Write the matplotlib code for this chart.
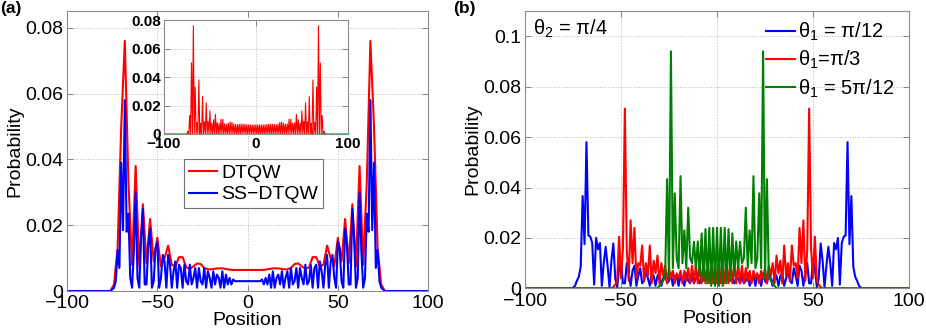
#!/usr/bin/env python3
"""Quantum walk probability distributions: DTQW vs SS-DTQW and theta_1 sweep"""
import matplotlib
matplotlib.use('Agg')
import matplotlib.pyplot as plt
import numpy as np

# ---- data (symmetric about position 0) ----
# panel (a): DTQW, even positions -76, -74, ..., 0
dtqw_half = [0.0, 0.002, 0.013, 0.050, 0.076, 0.033, 0.008, 0.038, 0.0075, 0.0264,
             0.0085, 0.0219, 0.009, 0.0162, 0.0075, 0.010, 0.0138, 0.008, 0.0075, 0.0103,
             0.0103, 0.0072, 0.0068, 0.0075, 0.0084, 0.0082, 0.0070, 0.0066, 0.0066, 0.0068,
             0.0069, 0.0069, 0.0067, 0.0065, 0.0064, 0.0064, 0.0064, 0.0064, 0.0064]
# panel (a): SS-DTQW, positions -76 ... 0
ssdtqw_half = [0.0, 0.0005, 0.001, 0.003, 0.0125, 0.007, 0.039, 0.0185, 0.058, 0.018,
               0.0235, 0.004, 0.001, 0.012, 0.030, 0.004, 0.001, 0.016, 0.025, 0.002,
               0.002, 0.014, 0.019, 0.001, 0.003, 0.013, 0.015, 0.001, 0.004, 0.011,
               0.009, 0.001, 0.011, 0.008, 0.001, 0.006, 0.009, 0.001, 0.008, 0.007,
               0.001, 0.008, 0.003, 0.002, 0.008, 0.002, 0.004, 0.007, 0.001, 0.007,
               0.003, 0.002, 0.007, 0.001, 0.006, 0.004, 0.001, 0.006, 0.002, 0.005,
               0.004, 0.001, 0.006, 0.001, 0.005, 0.002, 0.004, 0.002, 0.0035, 0.003,
               0.003, 0.003, 0.003, 0.003, 0.003, 0.003, 0.003]
# panel (b): theta_1 = pi/12, positions -76 ... 0
th_pi12_half = [0.0, 0.0003, 0.001, 0.003, 0.0046, 0.0086, 0.0366, 0.0175, 0.058, 0.021,
                0.0205, 0.018, 0.0015, 0.020, 0.0155, 0.018, 0.001, 0.010, 0.0165, 0.009,
                0.0005, 0.011, 0.0178, 0.004, 0.0005, 0.008, 0.011, 0.002, 0.002, 0.010,
                0.006, 0.001, 0.007, 0.009, 0.001, 0.005, 0.008, 0.002, 0.003, 0.007,
                0.004, 0.001, 0.006, 0.005, 0.001, 0.005, 0.006, 0.001, 0.004, 0.006,
                0.002, 0.003, 0.006, 0.001, 0.005, 0.005, 0.001, 0.005, 0.004, 0.001,
                0.006, 0.003, 0.002, 0.005, 0.002, 0.004, 0.004, 0.002, 0.005, 0.003,
                0.004, 0.005, 0.003, 0.005, 0.004, 0.004, 0.004]
# panel (b): theta_1 = pi/3, positions -55 ... 0
th_pi3_half = [0.0, 0.0005, 0.0015, 0.003, 0.0205, 0.004, 0.016, 0.0713, 0.015, 0.003,
               0.027, 0.010, 0.024, 0.004, 0.010, 0.009, 0.017, 0.003, 0.010, 0.005,
               0.017, 0.002, 0.011, 0.006, 0.013, 0.002, 0.010, 0.005, 0.009, 0.002,
               0.008, 0.004, 0.007, 0.002, 0.006, 0.004, 0.007, 0.002, 0.007, 0.003,
               0.008, 0.002, 0.009, 0.002, 0.0095, 0.002, 0.010, 0.002, 0.010, 0.002,
               0.010, 0.002, 0.010, 0.002, 0.010, 0.002]
# panel (b): theta_1 = 5pi/12, positions -32 ... 0
th_5pi12_half = [0.0, 0.0, 0.001, 0.002, 0.003, 0.005, 0.0433, 0.004, 0.094, 0.008,
                 0.0377, 0.012, 0.008, 0.0445, 0.010, 0.023, 0.008, 0.032, 0.012, 0.010,
                 0.0185, 0.008, 0.0186, 0.005, 0.0218, 0.003, 0.0235, 0.002, 0.024, 0.001,
                 0.024, 0.001, 0.024]

x_ticks = [-100, -50, 0, 50, 100]
ya_ticks = [0, 0.02, 0.04, 0.06, 0.08]
yb_ticks = [0, 0.02, 0.04, 0.06, 0.08, 0.1]

FS = 14


def mirror(half):
    """Half profile (left edge .. 0) -> full symmetric profile"""
    return list(half) + list(half[-2::-1])


def padded(pos, vals):
    """Extend with zero probability out to the +-100 axis limits"""
    return np.r_[-100, pos, 100], np.r_[0.0, vals, 0.0]


def style_axes(ax, fs=FS, bold=False):
    ax.set_xlim(-100, 100)
    ax.tick_params(direction='in', top=True, right=True, length=4, width=0.6,
                   color='0.45', labelsize=fs, pad=3)
    ax.grid(True, linestyle=':', color='0.72', linewidth=0.7)
    for s in ax.spines.values():
        s.set_color('0.55')
        s.set_linewidth(0.8)
    if bold:
        for lab in ax.get_xticklabels() + ax.get_yticklabels():
            lab.set_fontweight('bold')


plt.rcParams['font.family'] = ['Liberation Sans', 'DejaVu Sans']
plt.rcParams['mathtext.fontset'] = 'custom'
plt.rcParams['mathtext.rm'] = 'Liberation Sans'
plt.rcParams['mathtext.it'] = 'Liberation Sans:italic'
plt.rcParams['axes.axisbelow'] = True

fig = plt.figure(figsize=(9.26, 3.33), dpi=100)

# ---------------- panel (a) ----------------
ax1 = fig.add_axes([0.0724, 0.126, 0.39, 0.841])
n = len(dtqw_half)
pos_even = np.arange(-2 * (n - 1), 2 * n - 1, 2)
dtqw = np.array(mirror(dtqw_half))
m = len(ssdtqw_half)
pos_all = np.arange(-(m - 1), m)
ssdtqw = np.array(mirror(ssdtqw_half))

ax1.plot(*padded(pos_even, dtqw), color='red', lw=1.5, label='DTQW')
ax1.plot(*padded(pos_all, ssdtqw), color='blue', lw=1.5, label='SS\u2212DTQW')
ax1.set_ylim(0, 0.0851)
ax1.set_xticks(x_ticks)
ax1.set_yticks(ya_ticks)
ax1.set_yticklabels(['0', '0.02', '0.04', '0.06', '0.08'])
style_axes(ax1)
ax1.set_xlabel('Position', fontsize=FS, labelpad=0)
ax1.set_ylabel('Probability', fontsize=FS, labelpad=1)
leg = ax1.legend(loc='upper left', bbox_to_anchor=(0.325, 0.47), fontsize=FS,
                 handlelength=1.45, handletextpad=0.2, labelspacing=0.2,
                 borderpad=0.25, borderaxespad=0, fancybox=False, framealpha=1)
leg.get_frame().set_edgecolor('0.45')
leg.get_frame().set_linewidth(0.8)

# inset: DTQW on every site (odd sites are empty)
ins = fig.add_axes([0.177, 0.5976, 0.1987, 0.342])
pos_full = np.arange(pos_even[0], pos_even[-1] + 1)
dtqw_full = np.zeros(len(pos_full))
dtqw_full[::2] = dtqw
ins.plot(*padded(pos_full, dtqw_full), color='red', lw=0.8)
ins.set_ylim(0, 0.08)
ins.set_xticks([-100, 0, 100])
ins.set_yticks(ya_ticks)
ins.set_yticklabels(['0', '0.02', '0.04', '0.06', '0.08'])
style_axes(ins, fs=11, bold=True)
ins.tick_params(pad=2)

fig.text(0.0, 0.998, '(a)', fontsize=12.5, fontweight='bold', va='top', ha='left')

# ---------------- panel (b) ----------------
ax2 = fig.add_axes([0.567, 0.134, 0.4146, 0.833])
series_b = [
    (th_pi12_half, 'blue', '\u03b8$_1$ = \u03c0/12'),
    (th_pi3_half, 'red', '\u03b8$_1$=\u03c0/3'),
    (th_5pi12_half, 'green', '\u03b8$_1$ = 5\u03c0/12'),
]
for half, color, label in series_b:
    k = len(half)
    pos = np.arange(-(k - 1), k)
    color = '#007f00' if color == 'green' else color
    ax2.plot(*padded(pos, np.array(mirror(half))), color=color, lw=1.5, label=label)
ax2.set_ylim(0, 0.11)
ax2.set_xticks(x_ticks)
ax2.set_yticks(yb_ticks)
ax2.set_yticklabels(['0', '0.02', '0.04', '0.06', '0.08', '0.1'])
style_axes(ax2)
ax2.set_xlabel('Position', fontsize=FS, labelpad=0)
ax2.set_ylabel('Probability', fontsize=FS, labelpad=1)
ax2.text(0.02, 0.975, '\u03b8$_2$ = \u03c0/4', transform=ax2.transAxes,
         fontsize=FS + 0.5, va='top', ha='left')
ax2.legend(loc='upper right', bbox_to_anchor=(1.01, 1.03), fontsize=FS + 0.5, frameon=False,
           handlelength=1.45, handletextpad=0.15, labelspacing=0.3)

fig.text(0.489, 0.998, '(b)', fontsize=12.5, fontweight='bold', va='top', ha='left')

fig.savefig('out.png', dpi=100)
plt.close(fig)
